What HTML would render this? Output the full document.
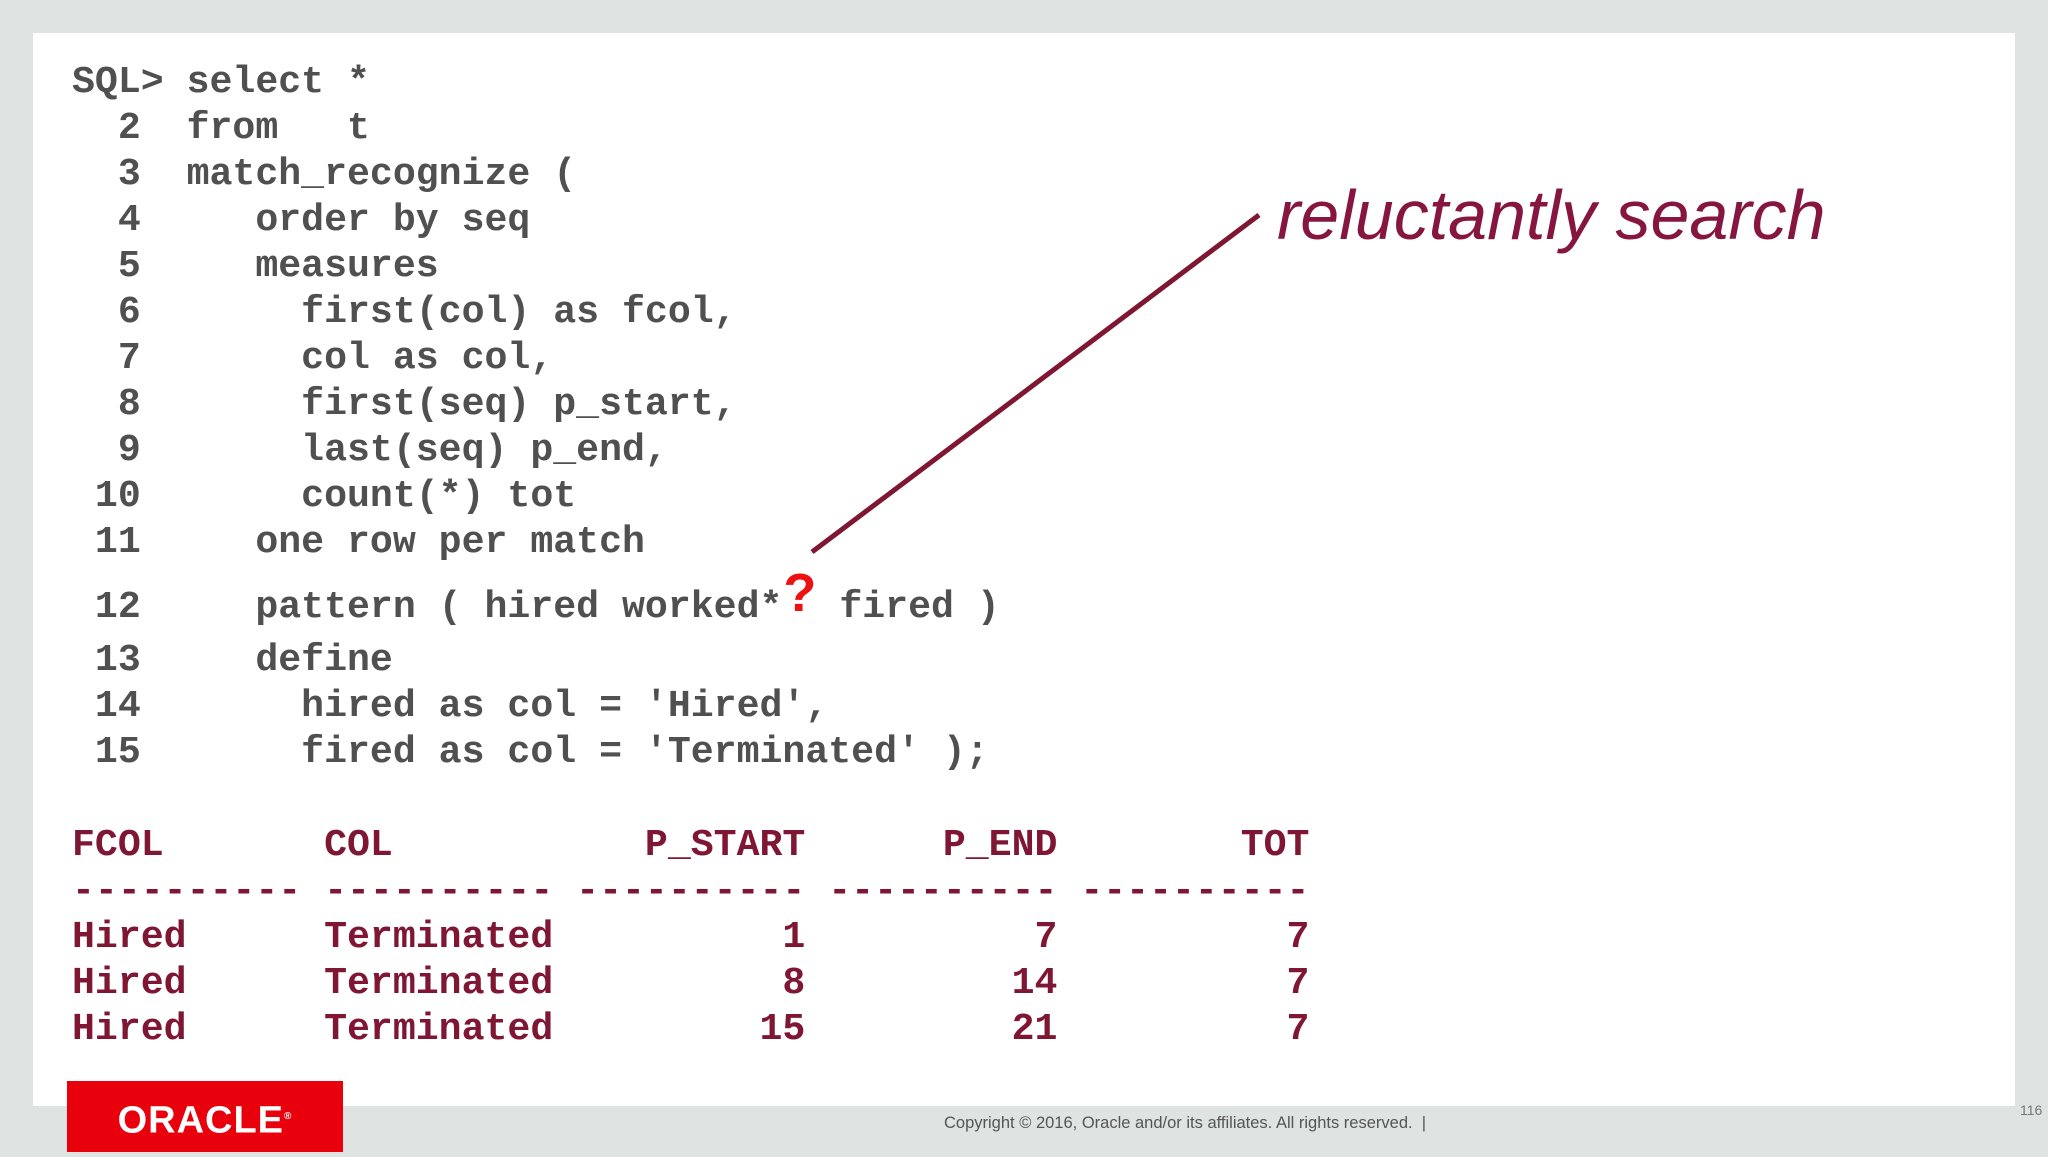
<!DOCTYPE html>
<html><head><meta charset="utf-8"><style>
html,body{margin:0;padding:0}
body{width:2048px;height:1152px;background:#dfe3e2;position:relative;overflow:hidden}
#panel{position:absolute;left:33px;top:33px;width:1982px;height:1073px;background:#fff}
.code{position:absolute;left:72px;margin:0;font-family:"Liberation Mono",monospace;font-weight:bold;font-size:38.2px;line-height:46px;white-space:pre;color:#505050}
.tbl{color:#7f1734}
.q{color:#ee1111;font-family:"Liberation Sans",sans-serif;font-size:54px;position:relative;top:-6px;padding:0 0 0 1px}
#callout{position:absolute;left:1277px;top:175px;font-family:"Liberation Sans",sans-serif;font-style:italic;font-size:70px;color:#861640;white-space:nowrap}
#logo{position:absolute;left:67px;top:1081px;width:276px;height:71px;background:#e8000d;color:#fff;font-family:"Liberation Sans",sans-serif;font-weight:bold;font-size:38px;line-height:71px;text-align:center;letter-spacing:1px}
#copy{position:absolute;left:944px;top:1114px;font-family:"Liberation Sans",sans-serif;font-size:16.5px;color:#555;white-space:nowrap}
#pg{position:absolute;left:2020px;top:1102px;font-family:"Liberation Sans",sans-serif;font-size:14px;color:#777}
</style></head><body>
<div id="panel"></div>
<pre class="code" style="top:60px">SQL&gt; select *
  2  from   t
  3  match_recognize (
  4     order by seq
  5     measures
  6       first(col) as fcol,
  7       col as col,
  8       first(seq) p_start,
  9       last(seq) p_end,
 10       count(*) tot
 11     one row per match</pre>
<pre class="code" style="top:576px"> 12     pattern ( hired worked*<span class="q">?</span> fired )</pre>
<pre class="code" style="top:638px"> 13     define
 14       hired as col = 'Hired',
 15       fired as col = 'Terminated' );</pre>
<pre class="code tbl" style="top:823px">FCOL       COL           P_START      P_END        TOT
---------- ---------- ---------- ---------- ----------
Hired      Terminated          1          7          7
Hired      Terminated          8         14          7
Hired      Terminated         15         21          7</pre>
<svg style="position:absolute;left:0;top:0" width="2048" height="1152"><line x1="812" y1="552" x2="1259" y2="215" stroke="#7f1734" stroke-width="5"/></svg>
<div id="callout">reluctantly search</div>
<div id="logo">ORACLE<sup style="font-size:10px">®</sup></div>
<div id="copy">Copyright © 2016, Oracle and/or its affiliates. All rights reserved. &nbsp;|</div>
<div id="pg">116</div>
</body></html>
